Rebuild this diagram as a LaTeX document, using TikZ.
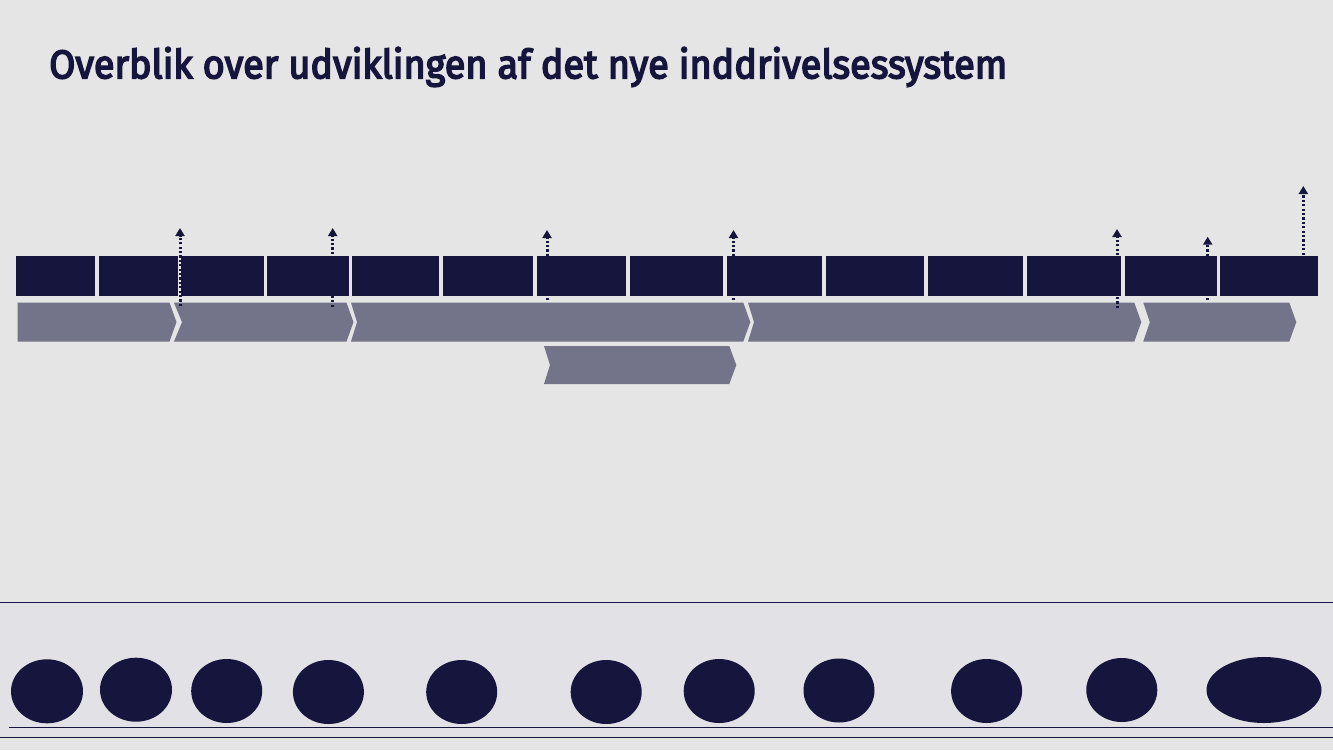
\documentclass[tikz,border=0pt]{standalone}
\usepackage{fontspec}
\setmainfont{Fira Sans}
\newfontface\titlefont{Fira Sans}[FakeBold=4]
\usetikzlibrary{arrows.meta,shapes.geometric}
\definecolor{navy}{RGB}{22,21,61}
\definecolor{chevgray}{RGB}{115,115,137}
\definecolor{bgcol}{RGB}{229,229,229}
\definecolor{bandcol}{RGB}{226,226,230}
\newcommand\mychevron[5]{% left, right, top, bottom, notch depth (0 = flat)
  \fill[chevgray] (#1,#3) -- (#2,#3) -- ({#2+7},{(#3+#4)/2}) -- (#2,#4) -- (#1,#4) -- ({#1+#5},{(#3+#4)/2}) -- cycle;}
\tikzset{
  bar/.style={rectangle, fill=navy, inner sep=0pt, minimum height=40pt},
  disc/.style={ellipse, fill=navy, inner sep=0pt},
  darr/.style={navy, line width=3pt, dash pattern=on 2.2pt off 2.2pt, -{Triangle[width=9pt,length=8pt]}},
  rule/.style={navy, line width=1pt},
}
\begin{document}
\begin{tikzpicture}[x=1pt,y=-1pt]
\useasboundingbox (0,0) rectangle (1333,750);
\fill[bgcol] (0,0) rectangle (1333,750);
\fill[bandcol] (0,602) rectangle (1333,737);
% title
\node[anchor=base west, inner sep=0pt, text=navy, font=\titlefont\fontsize{40}{44}\selectfont] (title) at (49,78.3)
  {\resizebox{958pt}{\height}{Overblik over udviklingen af det nye inddrivelsessystem}};
% chevrons
\mychevron{17.7}{169.5}{302.7}{341.5}{0}
\mychevron{174}{346.5}{302.7}{341.5}{8}
\mychevron{351}{743.3}{302.7}{341.5}{6}
\mychevron{748}{1134.3}{302.7}{341.5}{6}
\mychevron{1143.3}{1289.3}{302.7}{341.5}{6.5}
\mychevron{544}{729.3}{346}{384}{6}
% dotted arrows
\foreach \x/\t/\b [count=\i] in {180/228/306, 332.7/228/306.7, 547/230/300, 733.5/230/300, 1117/229/308, 1207.7/236.7/300, 1303.3/186/290}{
  \coordinate (s\i) at (\x,\b);
  \coordinate (t\i) at (\x,\t);
  \draw[darr] (s\i) -- (t\i);
}
% bars
\foreach \a/\b [count=\i] in {16/95, 99/178, 181/264, 267/349, 352/439, 443/533, 537/626, 630/723, 727/822, 826/924, 928/1023, 1027/1121, 1125/1217, 1220/1318}{
  \node[bar, minimum width={(\b-\a)*1pt}] (b\i) at ({(\a+\b)/2},276.3) {};
}
% bottom rules
\coordinate (r1a) at (0,602); \coordinate (r1b) at (1333,602);
\coordinate (r2a) at (9,727.3); \coordinate (r2b) at (1333,727.3);
\coordinate (r3a) at (0,737); \coordinate (r3b) at (1333,737);
\draw[rule] (r1a) -- (r1b);
\draw[rule, line width=1.6pt] (r2a) -- (r2b);
\draw[rule] (r3a) -- (r3b);
% discs
\foreach \x/\y/\w/\h [count=\i] in {47/691.3/72/64, 136/689.7/72/64, 226.7/691/71/64, 328.4/692/71/64, 461.7/692/71/64, 606.2/692/71/64, 719.2/691/71/64, 839/690.5/71/64, 986.6/691/71/64, 1121.8/690/71/64, 1264/690/115/66}{
  \node[disc, minimum width={\w*1pt}, minimum height={\h*1pt}] (e\i) at (\x,\y) {};
}
\end{tikzpicture}
\end{document}
